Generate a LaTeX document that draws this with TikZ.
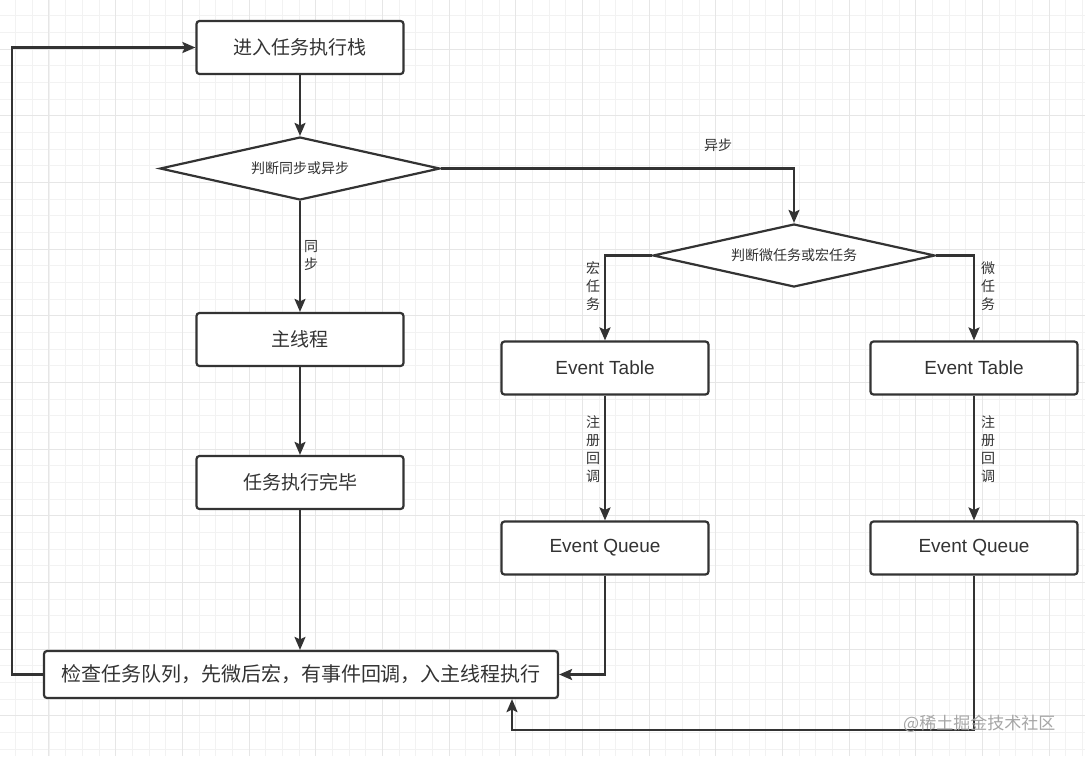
\documentclass[tikz,border=0pt]{standalone}
\usepackage{fontspec}
\setmainfont{Liberation Sans}
\newfontfamily\cjk{Noto Sans CJK SC}
\usetikzlibrary{shapes.geometric,arrows.meta}
\definecolor{ink}{HTML}{333333}
\definecolor{txt}{HTML}{333333}
\definecolor{gminor}{HTML}{F2F2F2}
\definecolor{gmajor}{HTML}{E6E6E6}
\tikzset{
  box/.style={draw=ink, line width=2.2pt, rounded corners=3pt, fill=white,
    minimum width=207pt, minimum height=53pt, inner sep=0pt, text=txt,
    font=\cjk\fontsize{19}{22}\selectfont},
  ebox/.style={box, font=\fontsize{19}{22}\selectfont},
  dia/.style={draw=ink, line width=2.2pt, shape=diamond, aspect=4.4, fill=white,
    minimum width=280pt, minimum height=63pt, inner sep=0pt, text=txt,
    font=\cjk\fontsize{14}{16}\selectfont},
  lab/.style={text=txt, inner sep=0pt, align=center,
    font=\cjk\fontsize{14}{18}\selectfont},
  arr/.style={draw=ink, line width=2.2pt, -{Stealth[length=13pt,width=11pt,inset=2.5pt]}},
  minorg/.style={draw=gminor, line width=1pt},
  majorg/.style={draw=gmajor, line width=1pt}
}
\begin{document}
\begin{tikzpicture}[x=1pt,y=-1pt]
\useasboundingbox (0,0) rectangle (1085,756);
\fill[white] (0,0) rectangle (1085,756);
\begin{scope}
\clip (0,0) rectangle (1085,756);
\foreach \i in {0,...,66} {\draw[minorg] ({-1+16.667*\i},0) -- ({-1+16.667*\i},756);}
\foreach \i in {0,...,46} {\draw[minorg] (0,{-1+16.667*\i}) -- (1085,{-1+16.667*\i});}
\foreach \i in {0,...,17} {\draw[majorg] ({-17.67+66.667*\i},0) -- ({-17.67+66.667*\i},756);}
\foreach \i in {0,...,12} {\draw[majorg] (0,{-17.67+66.667*\i}) -- (1085,{-17.67+66.667*\i});}
\end{scope}

\node[box] (A) at (300,47.5) {进入任务执行栈};
\node[dia] (D1) at (300,168.5) {判断同步或异步};
\node[box] (M) at (300,339.5) {主线程};
\node[box] (F) at (300,482.5) {任务执行完毕};
\node[box, minimum width=514pt, minimum height=47pt, font=\cjk\fontsize{20}{24}\selectfont] (C) at (301,674.5) {检查任务队列，先微后宏，有事件回调，入主线程执行};
\node[dia, minimum width=282pt] (D2) at (794,255.5) {判断微任务或宏任务};
\node[ebox] (TL) at (605,368) {Event Table};
\node[ebox] (TR) at (974,368) {Event Table};
\node[ebox] (QL) at (605,548) {Event Queue};
\node[ebox] (QR) at (974,548) {Event Queue};

\coordinate (lft) at (12,0);
\coordinate (bot) at (512,730);

\draw[arr] (A) -- (D1);
\draw[arr] (D1) -- (M);
\draw[arr] (M) -- (F);
\draw[arr] (F.south) -- (F.south |- C.north);
\draw[arr] (D1.east) -| (D2.north);
\draw[arr] (D2.west) -| (TL.north);
\draw[arr] (D2.east) -| (TR.north);
\draw[arr] (TL) -- (QL);
\draw[arr] (TR) -- (QR);
\draw[arr] (QL.south) |- (C.east);
\draw[arr] (QR.south) |- (bot) -- (bot |- C.south);
\draw[arr] (C.west) -- (C.west -| lft) |- (A.west);

\node[lab] (l1) at (718,145) {异步};
\node[lab] (l2) at (311,256) {同\\步};
\node[lab] (l3) at (593,286) {宏\\任\\务};
\node[lab] (l4) at (988,286) {微\\任\\务};
\node[lab] (l5) at (593,449) {注\\册\\回\\调};
\node[lab] (l6) at (988,449) {注\\册\\回\\调};

\node[text=gray!70, inner sep=0pt, anchor=west, font=\cjk\fontsize{17}{20}\selectfont] (wm) at (903,724) {@稀土掘金技术社区};
\end{tikzpicture}
\end{document}
